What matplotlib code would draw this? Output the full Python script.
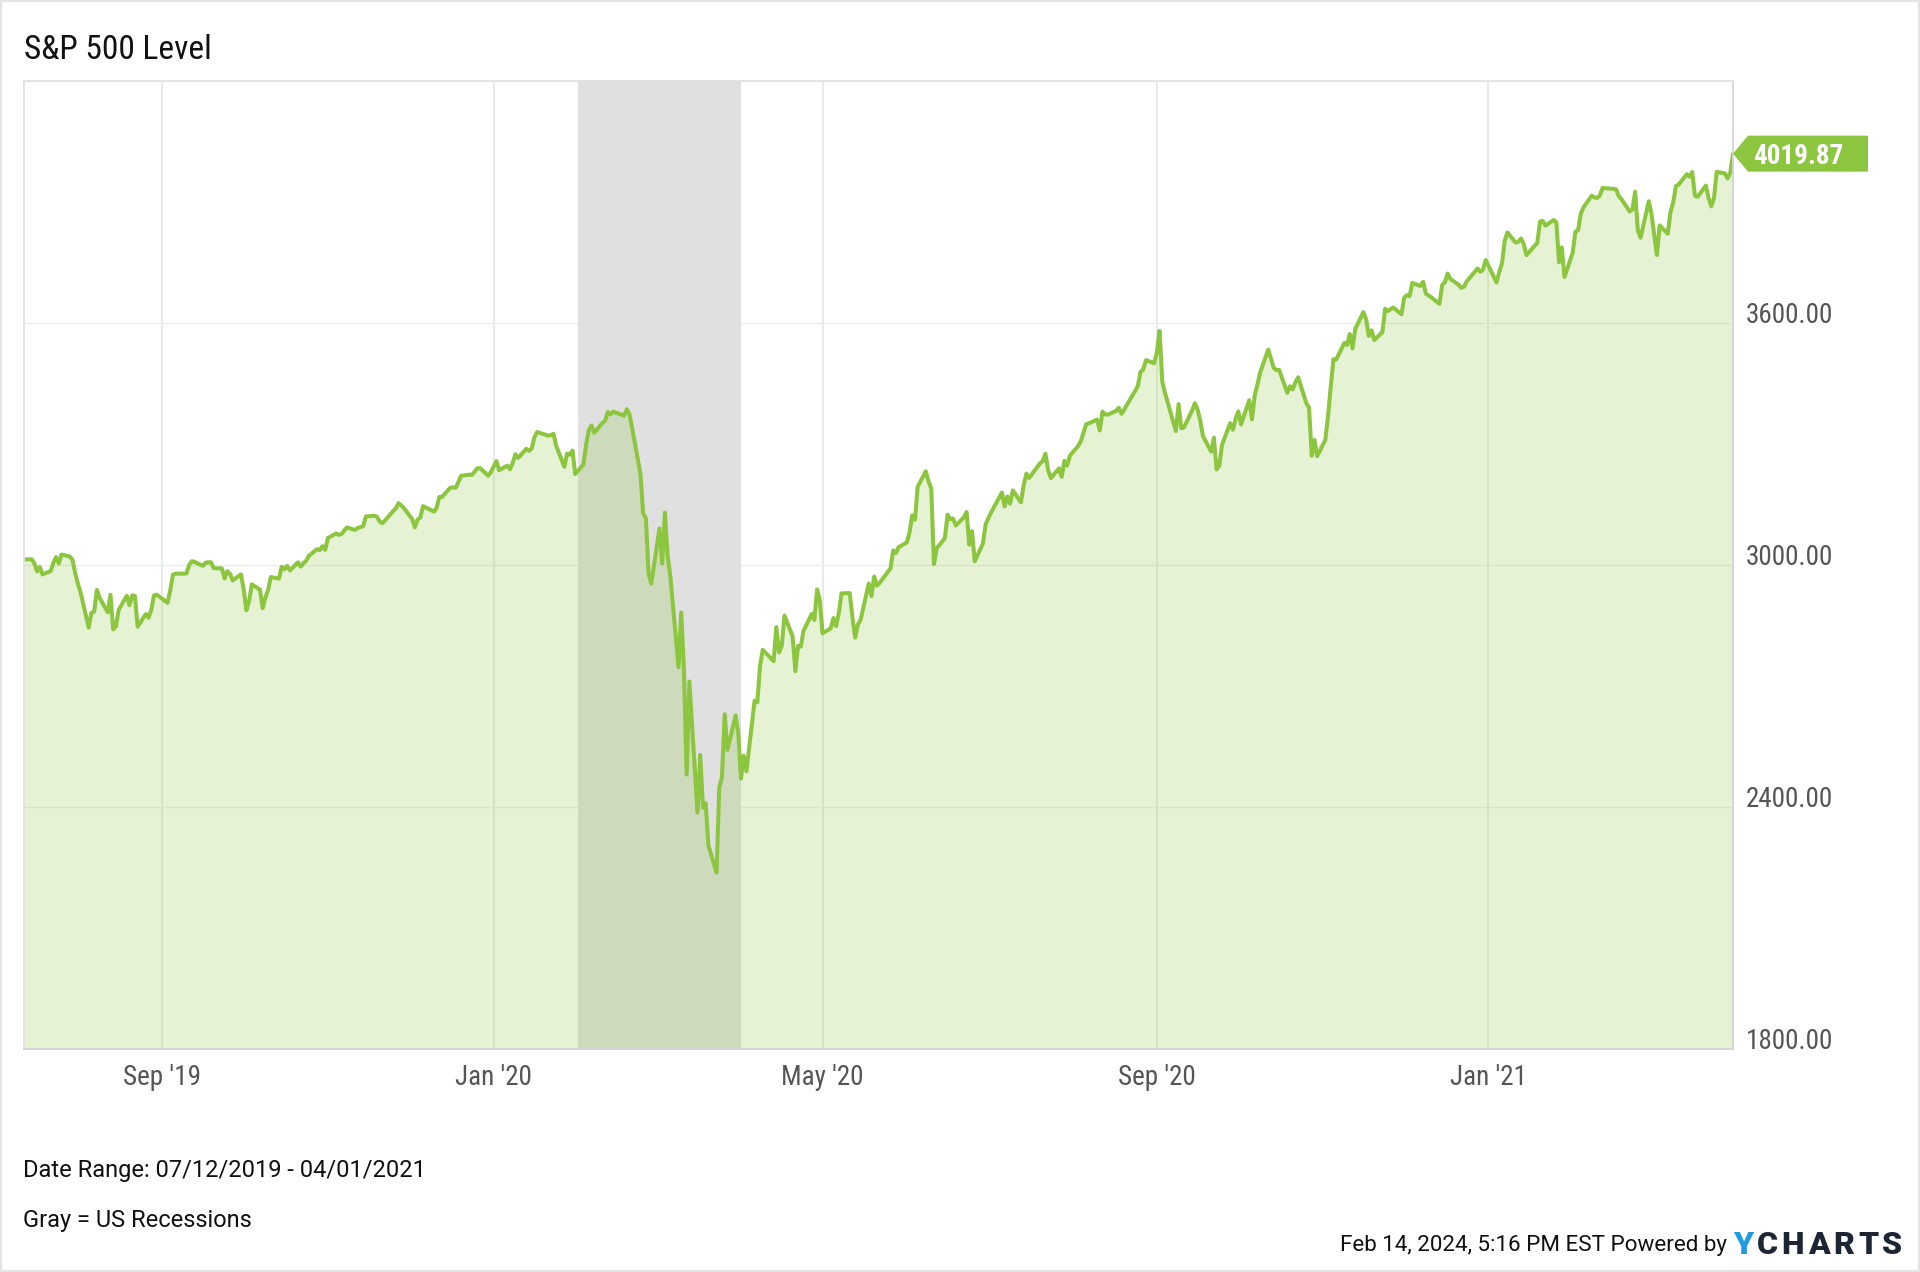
import numpy as np
import pandas as pd
import matplotlib
matplotlib.use("Agg")
import matplotlib.pyplot as plt
import matplotlib.dates as mdates
from matplotlib import font_manager as fm
from matplotlib.patches import Polygon, Rectangle
from matplotlib.transforms import IdentityTransform, blended_transform_factory

# ---------------- data ----------------
TITLE = "S&P 500 Level"
START, END = "2019-07-12", "2021-04-01"
RECESSION = ("2020-02-01", "2020-04-01")
HOLIDAYS = ["2019-09-02", "2019-11-28", "2019-12-25", "2020-01-01", "2020-01-20",
            "2020-02-17", "2020-04-10", "2020-05-25", "2020-07-03", "2020-09-07",
            "2020-11-26", "2020-12-25", "2021-01-01", "2021-01-18", "2021-02-15"]

closes_2019 = [
    3013.77, 3014.30, 3004.04, 2984.42, 2995.11, 2976.61, 2985.03, 3005.47, 3019.56, 3003.67, 3025.86, 3020.97, 3013.18, 2980.38,
    2953.56, 2932.05, 2844.74, 2881.77, 2883.98, 2938.09, 2918.65, 2882.70, 2926.32, 2840.60, 2847.60, 2888.68, 2923.65, 2900.51,
    2924.43, 2922.95, 2847.11, 2878.38, 2869.16, 2887.94, 2924.58, 2926.46,
    2906.27, 2937.78, 2976.00, 2978.71, 2978.43, 2979.39, 3000.93, 3009.57, 3007.39, 2997.96, 3005.70, 3006.73, 3006.79, 2992.07,
    2991.78, 2966.60, 2984.87, 2977.62, 2961.79, 2976.74,
    2940.25, 2887.61, 2910.63, 2952.01, 2938.79, 2893.06, 2919.40, 2938.13, 2970.27, 2966.15, 2995.68, 2989.69, 2997.95, 2986.20,
    3006.72, 2995.99, 3004.52, 3010.29, 3022.55, 3039.42, 3036.89, 3046.77, 3037.56,
    3066.91, 3078.27, 3074.62, 3076.78, 3085.18, 3093.08, 3087.01, 3091.84, 3094.04, 3096.63, 3120.46, 3122.03, 3120.18, 3108.46,
    3103.54, 3110.29, 3133.64, 3140.52, 3153.63, 3140.98,
    3113.87, 3093.20, 3112.76, 3117.43, 3145.91, 3135.96, 3132.52, 3141.63, 3168.57, 3168.80, 3191.45, 3192.52, 3191.14, 3205.37,
    3221.22, 3224.01, 3223.38, 3239.91, 3240.02, 3221.29, 3230.78,
]
closes_2020 = [
    3257.85, 3234.85, 3246.28, 3237.18, 3253.05, 3274.70, 3265.35, 3288.13, 3283.15, 3289.29, 3316.81, 3329.62, 3320.79, 3321.75,
    3325.54, 3295.47, 3243.63, 3276.24, 3273.40, 3283.66, 3225.52,
    3248.92, 3297.59, 3334.69, 3345.78, 3327.71, 3352.09, 3357.75, 3379.45, 3373.94, 3380.16, 3370.29, 3386.15, 3373.23, 3337.75,
    3225.89, 3128.21, 3116.39, 2978.76, 2954.22,
    3090.23, 3003.37, 3130.12, 3023.94, 2972.37, 2746.56, 2882.23, 2741.38, 2480.64, 2711.02, 2386.13, 2529.19, 2398.10, 2409.39,
    2304.92, 2237.40, 2447.33, 2475.56, 2630.07, 2541.47, 2626.65, 2584.59,
    2470.50, 2526.90, 2488.65, 2663.68, 2659.41, 2749.98, 2789.82, 2761.63, 2846.06, 2783.36, 2799.55, 2874.56, 2823.16, 2736.56,
    2799.31, 2797.80, 2836.74, 2878.48, 2863.39, 2939.51, 2912.43,
    2830.71, 2842.74, 2868.44, 2848.42, 2881.19, 2929.80, 2930.32, 2870.12, 2820.00, 2852.50, 2863.70, 2953.91, 2922.94, 2971.61,
    2948.51, 2955.45, 2991.77, 3036.13, 3029.73, 3044.31,
    3055.73, 3080.82, 3122.87, 3112.35, 3193.93, 3232.39, 3207.18, 3190.14, 3002.10, 3041.31, 3066.59, 3124.74, 3113.49, 3115.34,
    3097.74, 3117.86, 3131.29, 3050.33, 3083.76, 3009.05, 3053.24, 3100.29,
    3115.86, 3130.01, 3179.72, 3145.32, 3169.94, 3152.05, 3185.04, 3155.22, 3197.52, 3226.56, 3215.57, 3224.73, 3251.84, 3257.30,
    3276.02, 3235.66, 3215.63, 3239.41, 3218.44, 3258.44, 3246.22, 3271.12,
    3294.61, 3306.51, 3327.77, 3349.16, 3351.28, 3360.47, 3333.69, 3380.35, 3373.43, 3372.85, 3381.99, 3389.78, 3374.85, 3385.51,
    3397.16, 3431.28, 3443.62, 3478.73, 3484.55, 3508.01, 3500.31,
    3526.65, 3580.84, 3455.06, 3426.96, 3331.84, 3398.96, 3339.19, 3340.97, 3383.54, 3401.20, 3385.49, 3357.01, 3319.47, 3281.06,
    3315.57, 3236.92, 3246.59, 3298.46, 3351.60, 3335.47, 3363.00,
    3380.80, 3348.42, 3408.60, 3360.97, 3419.44, 3446.83, 3477.14, 3534.22, 3511.93, 3488.67, 3483.34, 3483.81, 3426.92, 3443.12,
    3435.56, 3453.49, 3465.39, 3400.97, 3390.68, 3271.03, 3310.11, 3269.96,
    3310.24, 3369.16, 3443.44, 3510.45, 3509.44, 3550.50, 3545.53, 3572.66, 3537.01, 3585.15, 3626.91, 3609.53, 3567.79, 3581.87,
    3557.54, 3577.59, 3635.41, 3629.65, 3638.35, 3621.63,
    3662.45, 3669.01, 3666.72, 3699.12, 3691.96, 3702.25, 3672.82, 3668.10, 3663.46, 3647.49, 3694.62, 3701.17, 3722.48, 3709.41,
    3694.92, 3687.26, 3690.01, 3703.06, 3735.36, 3727.04, 3732.04, 3756.07,
]
closes_2021 = [
    3700.65, 3726.86, 3748.14, 3803.79, 3824.68, 3799.61, 3801.19, 3809.84, 3795.54, 3768.25, 3798.91, 3851.85, 3853.07, 3841.47,
    3855.36, 3849.62, 3750.77, 3787.38, 3714.24,
    3773.86, 3826.31, 3830.17, 3871.74, 3886.83, 3915.59, 3911.23, 3909.88, 3916.38, 3934.83, 3932.59, 3931.33, 3913.97, 3906.71,
    3876.50, 3881.37, 3925.43, 3829.34, 3811.15,
    3901.82, 3870.29, 3819.72, 3768.47, 3841.94, 3821.35, 3875.44, 3898.81, 3939.34, 3943.34, 3968.94, 3962.71, 3974.12, 3915.46,
    3913.10, 3940.59, 3910.52, 3889.14, 3909.52, 3974.54, 3971.09, 3958.55, 3972.89,
    4019.87,
]
YTICKS = [1800, 2400, 3000, 3600]
YLIM = (1800, 4200)
XTICK_MONTHS = [1, 5, 9]
DATE_RANGE_TEXT = "Date Range: 07/12/2019 - 04/01/2021"
LEGEND_TEXT = "Gray = US Recessions"
FOOTER_TEXT = "Feb 14, 2024, 5:16 PM EST Powered by"

# ---------------- build series ----------------
dates = pd.bdate_range(START, END)
dates = dates[~dates.isin(pd.to_datetime(HOLIDAYS))]
values = np.array(closes_2019 + closes_2020 + closes_2021)
n = min(len(dates), len(values))
dates, values = dates[:n], values[:n]

# ---------------- fonts ----------------
_avail = {f.name for f in fm.fontManager.ttflist}
HAS_COND = "Roboto Condensed" in _avail
COND = "Roboto Condensed" if HAS_COND else "Roboto"
BODY = "Roboto"
plt.rcParams["font.family"] = [BODY, "DejaVu Sans"]

GREEN = "#8cc63f"
W, H = 1920, 1272
fig = plt.figure(figsize=(W / 100, H / 100), dpi=100, facecolor="white")

def fx(x):
    return x / W

def fy(y_from_top):
    return 1 - y_from_top / H

L, R, T, B = 23.5, 1733, 81, 1049
ax = fig.add_axes([fx(L), fy(B), (R - L) / W, (B - T) / H])
ax.set_facecolor("white")

ax.set_xlim(pd.Timestamp(START), pd.Timestamp(END))
ax.set_ylim(*YLIM)

# gridlines
ax.set_yticks(YTICKS)
ax.xaxis.set_major_locator(mdates.MonthLocator(bymonth=XTICK_MONTHS))
ax.xaxis.set_major_formatter(mdates.DateFormatter("%b '%y"))
ax.grid(axis="x", color="#e4e4e4", lw=1.1, zorder=0)
ax.grid(axis="y", color="#ececec", lw=1.0, zorder=0)
ax.set_axisbelow(True)

# recession band
ax.axvspan(pd.Timestamp(RECESSION[0]), pd.Timestamp(RECESSION[1]), color="#e0e0e0", lw=0, zorder=1)

# area + line
ax.fill_between(dates, values, YLIM[0], color=GREEN, alpha=0.22, lw=0, zorder=2)
ax.plot(dates, values, color=GREEN, lw=2.9, zorder=3, solid_joinstyle="round", solid_capstyle="round")

# spines
for side in ["left", "top"]:
    ax.spines[side].set_color("#e2e2e2")
    ax.spines[side].set_linewidth(1.3)
for side in ["right", "bottom"]:
    ax.spines[side].set_color("#d4d4d4")
    ax.spines[side].set_linewidth(1.3)
for s in ax.spines.values():
    s.set_zorder(4)

# ticks
tick_size = 19.5 if HAS_COND else 17
ax.tick_params(axis="x", length=0, pad=11, labelsize=tick_size, labelcolor="#555555")
for lbl in ax.get_xticklabels():
    lbl.set_fontfamily([COND, "DejaVu Sans"])
ax.tick_params(axis="y", length=0, labelleft=False, labelright=False)

blend = blended_transform_factory(ax.transAxes, ax.transData)
x_off = 13 / (R - L)
for v in YTICKS:
    ax.text(1 + x_off, v, f"{v:.2f}", transform=blend, ha="left", va="baseline",
            fontsize=tick_size, color="#555555", family=[COND, "DejaVu Sans"], clip_on=False)

# last value flag
last_x = mdates.date2num(dates[-1])
px, py = ax.transData.transform((last_x, values[-1]))
hh = 18
verts = [(px, py), (px + 15, py + hh), (px + 135, py + hh), (px + 135, py - hh), (px + 15, py - hh)]
fig.add_artist(Polygon(verts, closed=True, transform=IdentityTransform(), facecolor=GREEN, edgecolor="none", zorder=5))
fig.text(fx(px + 20), py / H, f"{values[-1]:.2f}", ha="left", va="center_baseline", fontsize=19.5 if HAS_COND else 17.5,
         fontweight="bold", color="white", family=[COND, "DejaVu Sans"], zorder=6)

# titles & notes
fig.text(fx(24), fy(59), TITLE, ha="left", va="baseline", fontsize=24 if HAS_COND else 22,
         color="#111111", family=[COND, "DejaVu Sans"])
fig.text(fx(23), fy(1177), DATE_RANGE_TEXT, ha="left", va="baseline", fontsize=17, color="#111111")
fig.text(fx(23), fy(1227), LEGEND_TEXT, ha="left", va="baseline", fontsize=17, color="#111111")
fig.text(fx(1727), fy(1251), FOOTER_TEXT, ha="right", va="baseline", fontsize=16.1, color="#111111")

# logo
renderer = fig.canvas.get_renderer()
letters = "YCHARTS"
lcolors = ["#1e9be3"] + ["#1c2534"] * 6
items = []
for ch, c in zip(letters, lcolors):
    t = fig.text(fx(1733), fy(1254), ch, ha="left", va="baseline", fontsize=23, fontweight="heavy",
                 color=c, family=["Roboto", "DejaVu Sans"])
    items.append((t, t.get_window_extent(renderer).width))
total = sum(w for _, w in items)
gap = (1902 - 1733 - total) / (len(items) - 1)
xcur = 1733
for t, w in items:
    t.set_x(fx(xcur))
    xcur += w + gap

# figure border
fig.add_artist(Rectangle((0, 0), 1, 1, transform=fig.transFigure, fill=False,
                         edgecolor="#e4e4e4", lw=3, zorder=10))

fig.savefig("out.png", dpi=100, facecolor="white")
